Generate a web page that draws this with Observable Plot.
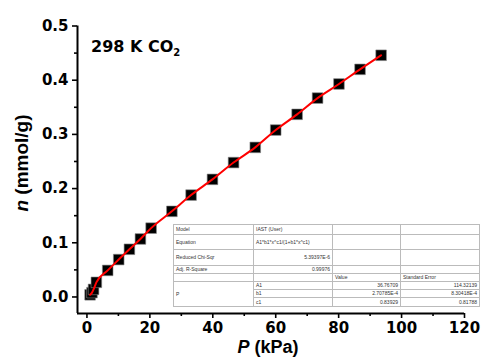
<!DOCTYPE html>
<html><head><meta charset="utf-8">
<script src="https://cdn.jsdelivr.net/npm/d3@7"></script>
<script src="https://cdn.jsdelivr.net/npm/@observablehq/plot@0.6"></script>
<style>
body{margin:0;background:#fff;}
#wrap{position:relative;width:483px;height:360px;font-family:"Liberation Sans",Arial,sans-serif;}
#wrap svg{position:absolute;left:0;top:0;}
.lbl{position:absolute;font-weight:bold;color:#000;white-space:nowrap;}
#fit{position:absolute;left:173px;top:224px;border-collapse:collapse;background:#fff;font-size:5px;color:#333;border:1px solid #777;}
#fit td{border:1px solid #bbb;padding:0 2px;line-height:5px;vertical-align:middle;}
#fit td.r{text-align:right;}
</style></head>
<body><div id="wrap"></div>
<script>
const pressure = [1.0, 1.6, 2.1, 3.0, 6.6, 10.1, 13.5, 17.0, 20.4, 27.0, 33.1, 39.9, 46.6, 53.5, 60.0, 66.8, 73.3, 80.1, 86.8, 93.5];
const uptake   = [0.004, 0.008, 0.014, 0.027, 0.049, 0.069, 0.088, 0.107, 0.127, 0.158, 0.188, 0.217, 0.248, 0.276, 0.308, 0.337, 0.367, 0.393, 0.420, 0.446];
const xDomain = [-3, 120];
const yDomain = [-0.0305, 0.5];
const xMajor = [0, 20, 40, 60, 80, 100, 120];
const xMinor = [10, 30, 50, 70, 90, 110];
const yMajor = [0.0, 0.1, 0.2, 0.3, 0.4, 0.5];
const yMinor = [0.05, 0.15, 0.25, 0.35, 0.45];
const fitRows = [
  ["Model", "IAST (User)", "", ""],
  ["Equation", "A1*b1*x^c1/(1+b1*x^c1)", "", ""],
  ["Reduced Chi-Sqr", "5.39397E-6", "", ""],
  ["Adj. R-Square", "0.99976", "", ""],
  ["", "", "Value", "Standard Error"],
  ["P", "A1", "36.76709", "114.32139"],
  ["", "b1", "2.70785E-4", "8.30418E-4"],
  ["", "c1", "0.83929", "0.81788"]
];

const data = pressure.map((p, i) => ({p, n: uptake[i]}));
const tickFont = "DejaVu Sans, Liberation Sans, sans-serif";

const chart = Plot.plot({
  width: 483, height: 360,
  marginLeft: 77, marginRight: 19, marginTop: 25.5, marginBottom: 47,
  style: {fontFamily: tickFont, fontWeight: "bold", fontSize: "15px", color: "#000", background: "transparent"},
  x: {domain: xDomain},
  y: {domain: yDomain},
  marks: [
    Plot.axisX(xMajor, {tickSize: 5, tickPadding: 4, strokeWidth: 1.6, fontSize: 15, fontWeight: "bold", label: null, tickFormat: d => String(d)}),
    Plot.axisX(xMinor, {tickSize: 3, strokeWidth: 1.6, label: null, tickFormat: () => ""}),
    Plot.axisY(yMajor, {tickSize: 5, tickPadding: 4, strokeWidth: 1.6, fontSize: 15, fontWeight: "bold", label: null, tickFormat: d3.format(".1f")}),
    Plot.axisY(yMinor, {tickSize: 3, strokeWidth: 1.6, label: null, tickFormat: () => ""}),
    Plot.ruleY([yDomain[0]], {x1: xDomain[0], x2: xDomain[1], stroke: "#000", strokeWidth: 2}),
    Plot.ruleX([xDomain[0]], {y1: yDomain[0], y2: yDomain[1], stroke: "#000", strokeWidth: 2}),
    Plot.dot(data, {x: "p", y: "n", symbol: "square", r: 6, fill: "#000", stroke: "#888", strokeWidth: 0.6}),
    Plot.line(data, {x: "p", y: "n", stroke: "#ff0000", strokeWidth: 2, curve: "monotone-x"})
  ]
});
const wrap = document.getElementById("wrap");
wrap.appendChild(chart);

// fit report table
const tbl = document.createElement("table");
tbl.id = "fit";
const colW = [75, 74, 63, 74];
const rowH = [10, 15, 16, 8, 8, 8, 8, 9];
fitRows.forEach((row, ri) => {
  if (ri === 6 || ri === 7) {
    const tr = document.createElement("tr");
    tr.style.height = rowH[ri] + "px";
    row.slice(1).forEach((c, ci) => {
      const td = document.createElement("td");
      td.textContent = c;
      if (ci >= 1) td.className = "r";
      tr.appendChild(td);
    });
    tbl.appendChild(tr);
    return;
  }
  const tr = document.createElement("tr");
  tr.style.height = rowH[ri] + "px";
  row.forEach((c, ci) => {
    const td = document.createElement("td");
    td.textContent = c;
    td.style.width = colW[ci] + "px";
    if (ri === 5 && ci === 0) td.rowSpan = 3;
    if ((ri === 2 || ri === 3) && ci === 1) td.className = "r";
    if (ri === 5 && ci >= 2) td.className = "r";
    tr.appendChild(td);
  });
  tbl.appendChild(tr);
});
wrap.appendChild(tbl);

// annotations
const t1 = document.createElement("div");
t1.className = "lbl";
t1.style.cssText = "left:91px;top:37px;font-size:16px;font-family:'DejaVu Sans',sans-serif;";
t1.innerHTML = "298 K CO<sub style='font-size:10px;vertical-align:-4px'>2</sub>";
wrap.appendChild(t1);

const xl = document.createElement("div");
xl.className = "lbl";
xl.style.cssText = "left:0;width:536px;text-align:center;top:337px;font-size:18px;";
xl.innerHTML = "<i>P</i> (kPa)";
wrap.appendChild(xl);

const yl = document.createElement("div");
yl.className = "lbl";
yl.style.cssText = "left:22px;top:163px;font-size:19px;transform:translate(-50%,-50%) rotate(-90deg);";
yl.innerHTML = "<i>n</i> (mmol/g)";
wrap.appendChild(yl);
</script></body></html>
